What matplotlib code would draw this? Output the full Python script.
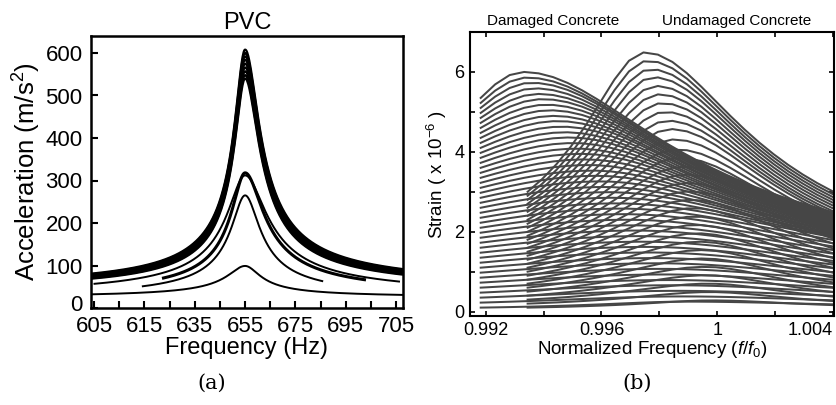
import numpy as np
import matplotlib
matplotlib.use('Agg')
import matplotlib.pyplot as plt
import matplotlib.transforms as mtransforms

plt.rcParams['font.family'] = ['Liberation Sans', 'DejaVu Sans']
plt.rcParams['mathtext.fontset'] = 'custom'
plt.rcParams['mathtext.rm'] = 'Liberation Sans'
plt.rcParams['mathtext.it'] = 'Liberation Sans:italic'

# ---------------- Panel (a): PVC ----------------
pvc_tick_pos = [595, 605, 615, 625, 635, 645, 655, 665, 675, 685, 695, 705, 715]
pvc_tick_lbl = ['605', '', '615', '', '635', '', '655', '', '675', '', '695', '', '705']
pvc_yticks = [0, 100, 200, 300, 400, 500, 600]
pvc_center = 655.0
pvc_peak = [608, 600, 592, 584, 575, 566, 557, 548, 540, 318, 312, 265, 99]
pvc_base = [44, 43, 42, 41, 40, 39, 38, 37, 36, 25, 25, 20, 24]
pvc_wl = [4.0, 4.0, 4.0, 4.0, 4.0, 4.0, 4.0, 4.0, 4.0, 5.1, 6.7, 5.2, 6.7]
pvc_wr = [5.3, 5.3, 5.3, 5.3, 5.3, 5.3, 5.3, 5.3, 5.3, 6.8, 8.0, 5.5, 5.7]
pvc_fstart = [593.8, 593.8, 593.8, 593.8, 593.8, 593.8, 593.8, 593.8, 593.8, 622, 594.8, 614, 593.8]
pvc_fend = [717.7, 717.7, 717.7, 717.7, 717.7, 717.7, 717.7, 717.7, 717.7, 703, 716.5, 686, 717.7]
pvc_lw = [1.6, 1.6, 1.6, 1.6, 1.6, 1.6, 1.6, 1.6, 1.6, 2.2, 1.4, 1.4, 1.4]

# ---------------- Panel (b): concrete ----------------
dmg_x0 = 0.99183
und_x0 = 0.99345
x_end = 1.0041
# damaged concrete curves: value at left start, peak value, peak position, value at right edge
dmg_start = [5.35, 5.225, 5.10, 4.975, 4.85, 4.725, 4.60, 4.475, 4.35, 4.225, 4.10, 3.975, 3.85,
             3.725, 3.60, 3.475, 3.35, 3.225, 3.10, 2.975, 2.85, 2.725, 2.60, 2.475, 2.35, 2.225,
             2.10, 1.975, 1.85, 1.725, 1.60, 1.475, 1.35, 1.225, 1.10, 0.975, 0.85, 0.725, 0.60,
             0.475, 0.35, 0.225, 0.10]
dmg_peak = [6.00, 5.86, 5.73, 5.59, 5.45, 5.32, 5.18, 5.04, 4.90, 4.77, 4.63, 4.49, 4.36, 4.22,
            4.08, 3.95, 3.81, 3.67, 3.53, 3.40, 3.26, 3.12, 2.99, 2.85, 2.71, 2.58, 2.44, 2.30,
            2.16, 2.03, 1.89, 1.75, 1.62, 1.48, 1.34, 1.21, 1.07, 0.93, 0.79, 0.66, 0.52, 0.38, 0.25]
dmg_fpeak = [0.99330, 0.99343, 0.99357, 0.99370, 0.99383, 0.99397, 0.99410, 0.99423, 0.99436,
             0.99450, 0.99463, 0.99476, 0.99490, 0.99503, 0.99516, 0.99530, 0.99543, 0.99556,
             0.99569, 0.99583, 0.99596, 0.99609, 0.99623, 0.99636, 0.99649, 0.99663, 0.99676,
             0.99689, 0.99702, 0.99716, 0.99729, 0.99742, 0.99756, 0.99769, 0.99782, 0.99796,
             0.99809, 0.99822, 0.99835, 0.99849, 0.99862, 0.99875, 0.99889]
dmg_end = [2.47, 2.44, 2.42, 2.39, 2.37, 2.34, 2.31, 2.29, 2.26, 2.24, 2.21, 2.18, 2.16, 2.13,
           2.11, 2.08, 2.05, 2.03, 2.00, 1.98, 1.95, 1.92, 1.90, 1.87, 1.85, 1.78, 1.70, 1.62,
           1.53, 1.44, 1.35, 1.26, 1.17, 1.08, 0.98, 0.89, 0.79, 0.69, 0.59, 0.49, 0.39, 0.28, 0.18]
# undamaged concrete curves
und_start = [3.0, 2.9, 2.8, 2.7, 2.6, 2.5, 2.4, 2.3, 2.2, 2.1, 2.0, 1.9, 1.8, 1.7, 1.6, 1.5,
             1.4, 1.3, 1.2, 1.1, 1.0, 0.9, 0.8, 0.7, 0.6, 0.5, 0.4, 0.3, 0.2, 0.1]
und_peak = [6.49, 6.28, 6.07, 5.87, 5.65, 5.44, 5.22, 5.00, 4.78, 4.57, 4.31, 4.06, 3.85, 3.63,
            3.43, 3.22, 3.01, 2.80, 2.59, 2.38, 2.17, 1.96, 1.75, 1.54, 1.33, 1.12, 0.91, 0.70,
            0.49, 0.28]
und_fpeak = [0.99750, 0.99760, 0.99770, 0.99780, 0.99790, 0.99800, 0.99810, 0.99820, 0.99830,
             0.99840, 0.99850, 0.99860, 0.99870, 0.99880, 0.99890, 0.99896, 0.99902, 0.99908,
             0.99914, 0.99920, 0.99926, 0.99932, 0.99938, 0.99944, 0.99950, 0.99956, 0.99962,
             0.99968, 0.99974, 0.99980]
und_end = [2.97, 2.90, 2.83, 2.76, 2.69, 2.62, 2.55, 2.48, 2.42, 2.36, 2.28, 2.20, 2.12, 2.05,
           1.98, 1.80, 1.68, 1.56, 1.44, 1.32, 1.20, 1.08, 0.96, 0.84, 0.72, 0.60, 0.48, 0.37,
           0.26, 0.16]


def pvc_curve(f, base, peak, wl, wr):
    w = np.where(f < pvc_center, wl, wr)
    return base + (peak - base) / np.sqrt(1 + ((f - pvc_center) / w) ** 2)


def strain_curve(x, x0, s, a, fp, e):
    gl = (fp - x0) / np.sqrt((a / s) ** 2 - 1)
    gr = (x_end - fp) / np.sqrt((a / e) ** 2 - 1)
    g = np.where(x < fp, gl, gr)
    return a / np.sqrt(1 + ((x - fp) / g) ** 2)


fig = plt.figure(figsize=(8.37, 4.05), dpi=100)

# ---- left axes
axl = fig.add_axes([91 / 837, 1 - 308 / 405, 312 / 837, 272 / 405])
for i in range(len(pvc_peak)):
    f = np.linspace(pvc_fstart[i], pvc_fend[i], 600)
    axl.plot(f, pvc_curve(f, pvc_base[i], pvc_peak[i], pvc_wl[i], pvc_wr[i]),
             color='black', lw=pvc_lw[i], solid_capstyle='butt')
axl.set_xlim(593.8, 717.7)
axl.set_ylim(0, 640)
axl.set_xticks(pvc_tick_pos)
axl.set_xticklabels(pvc_tick_lbl)
axl.set_yticks(pvc_yticks)
axl.tick_params(direction='in', length=5, width=1.5, labelsize=16, pad=6,
                top=False, right=False)
for s in axl.spines.values():
    s.set_linewidth(1.8)
# lift the "0" label a little, as in the reference
lbl0 = axl.get_yticklabels()[0]
lbl0.set_transform(lbl0.get_transform() +
                   mtransforms.ScaledTranslation(0, 5 / 100, fig.dpi_scale_trans))
axl.set_title('PVC', fontsize=17, pad=5)
axl.set_xlabel('Frequency (Hz)', fontsize=17, labelpad=0)
axl.set_ylabel('Acceleration (m/s$^2$)', fontsize=18.5, labelpad=2)

# ---- right axes
axr = fig.add_axes([470 / 837, 1 - 316 / 405, 364 / 837, 284 / 405])
gray = '#464646'
step = 0.0005
for i in range(len(dmg_peak)):
    x = np.arange(dmg_x0, x_end + step, step)
    axr.plot(x, strain_curve(x, dmg_x0, dmg_start[i], dmg_peak[i], dmg_fpeak[i], dmg_end[i]),
             color=gray, lw=1.45)
for i in range(len(und_peak)):
    x = np.arange(und_x0, x_end + step, step)
    axr.plot(x, strain_curve(x, und_x0, und_start[i], und_peak[i], und_fpeak[i], und_end[i]),
             color=gray, lw=1.45)
axr.set_xlim(0.99146, 1.00403)
axr.set_ylim(-0.11, 7.0)
axr.set_xticks([0.992, 0.994, 0.996, 0.998, 1.0, 1.002, 1.004])
axr.set_xticklabels(['0.992', '', '0.996', '', '1', '', '1.004'])
axr.get_xticklabels()[-1].set_horizontalalignment('right')
axr.set_yticks([0, 1, 2, 3, 4, 5, 6])
axr.set_yticklabels(['0', '', '2', '', '4', '', '6'])
axr.tick_params(direction='in', length=3.5, width=1.2, labelsize=13, pad=4,
                top=True, right=True)
for s in axr.spines.values():
    s.set_linewidth(1.5)
axr.set_xlabel('Normalized Frequency ($f/f_0$)', fontsize=13.5, labelpad=0)
axr.set_ylabel('Strain ( x 10$^{-6}$ )', fontsize=13.5, labelpad=4)
fig.text(553 / 837, 1 - 21 / 405, 'Damaged Concrete', fontsize=11, ha='center', va='center')
fig.text(737 / 837, 1 - 21 / 405, 'Undamaged Concrete', fontsize=11, ha='center', va='center')

fig.text(212 / 837, 1 - 383 / 405, '(a)', fontsize=15, ha='center', va='center',
         family='DejaVu Serif')
fig.text(637 / 837, 1 - 383 / 405, '(b)', fontsize=15, ha='center', va='center',
         family='DejaVu Serif')

fig.savefig('out.png', dpi=100)
